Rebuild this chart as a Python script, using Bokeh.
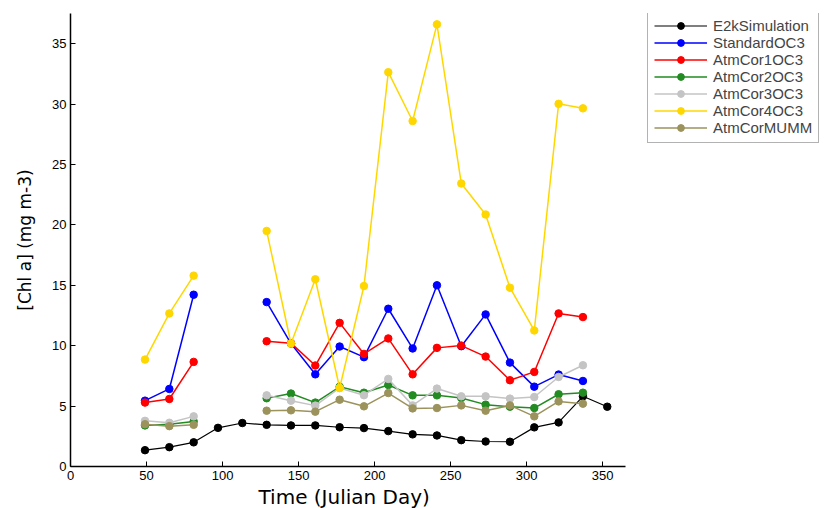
import numpy as np
from bokeh.plotting import figure
from bokeh.models import Legend, LegendItem, Range1d, FixedTicker, Title
from bokeh.embed import file_html
from bokeh.resources import INLINE

NaN = float("nan")

days = [49, 65, 81, 97, 113, 129, 145, 161, 177, 193, 209, 225, 241, 257, 273, 289, 305, 321, 337, 353]

e2k_simulation = [1.35, 1.6, 2.0, 3.2, 3.6, 3.45, 3.4, 3.4, 3.25, 3.18, 2.93, 2.66, 2.57, 2.18, 2.07, 2.05, 3.24, 3.65, 5.81, 4.95]
standard_oc3 = [5.45, 6.42, 14.22, NaN, NaN, 13.61, 10.18, 7.63, 9.93, 9.05, 13.06, 9.77, 15.0, 9.96, 12.59, 8.6, 6.61, 7.61, 7.08, NaN]
atmcor1_oc3 = [5.29, 5.59, 8.66, NaN, NaN, 10.37, 10.21, 8.36, 11.89, 9.32, 10.6, 7.63, 9.82, 10.01, 9.1, 7.14, 7.83, 12.67, 12.37, NaN]
atmcor2_oc3 = [3.4, 3.5, 3.73, NaN, NaN, 5.65, 6.04, 5.29, 6.6, 6.11, 6.75, 5.89, 5.89, 5.67, 5.12, 4.95, 4.84, 5.98, 6.11, NaN]
atmcor3_oc3 = [3.78, 3.62, 4.15, NaN, NaN, 5.89, 5.45, 5.04, 6.5, 5.9, 7.25, 5.06, 6.45, 5.81, 5.81, 5.62, 5.75, 7.41, 8.38, NaN]
atmcor4_oc3 = [8.85, 12.67, 15.8, NaN, NaN, 19.5, 10.18, 15.5, 6.5, 14.94, 32.64, 28.6, 36.6, 23.43, 20.86, 14.8, 11.26, 30.02, 29.65, NaN]
atmcor_mumm = [3.5, 3.34, 3.45, NaN, NaN, 4.62, 4.65, 4.54, 5.53, 4.98, 6.08, 4.81, 4.84, 5.06, 4.62, 5.06, 4.15, 5.39, 5.2, NaN]

series_names = ["E2kSimulation", "StandardOC3", "AtmCor1OC3", "AtmCor2OC3", "AtmCor3OC3", "AtmCor4OC3", "AtmCorMUMM"]
series_values = [e2k_simulation, standard_oc3, atmcor1_oc3, atmcor2_oc3, atmcor3_oc3, atmcor4_oc3, atmcor_mumm]
series_colors = ["#000000", "#0000ff", "#ff0000", "#228b22", "#c4c4c4", "#ffd700", "#9c935c"]

x_ticks = [0, 50, 100, 150, 200, 250, 300, 350]
y_ticks = [0, 5, 10, 15, 20, 25, 30, 35]

X_MAX = 365.0
Y_MAX = 37.5
LEFT = 70
WIDTH = 835
AXIS_PX = 555  # on-screen length of the x axis (0..365)
view_end = X_MAX * (WIDTH - LEFT) / AXIS_PX

p = figure(width=WIDTH, height=508, output_backend="svg", toolbar_location=None,
           x_range=Range1d(0, view_end), y_range=Range1d(0, Y_MAX),
           min_border_left=LEFT, min_border_right=0, min_border_top=13, min_border_bottom=0)
p.outline_line_color = None
p.xgrid.visible = False
p.ygrid.visible = False

items = []
for name, vals, col in zip(series_names, series_values, series_colors):
    y = np.array(vals, dtype=float)
    x = np.array(days, dtype=float)
    lw = 1.2 if name == "E2kSimulation" else 1.5
    lr = p.line(x, y, line_color=col, line_width=lw)
    mask = ~np.isnan(y)
    sr = p.scatter(x[mask], y[mask], marker="circle", size=7.5, fill_color=col, line_color=col)
    items.append(LegendItem(label=name, renderers=[lr, sr]))

for ax in (p.xaxis[0], p.yaxis[0]):
    ax.major_tick_in = 5
    ax.major_tick_out = 0
    ax.minor_tick_in = 0
    ax.minor_tick_out = 0
    ax.axis_line_color = "black"
    ax.axis_line_width = 1.5
    ax.major_tick_line_color = "black"
    ax.major_label_text_font = "Liberation Sans"
    ax.major_label_text_font_size = "13px"
    ax.major_label_text_color = "black"
    ax.axis_label_text_font = "DejaVu Sans"
    ax.axis_label_text_font_style = "normal"
    ax.axis_label_text_color = "black"

p.xaxis.bounds = (0, X_MAX)
p.xaxis.ticker = FixedTicker(ticks=x_ticks)
p.yaxis.ticker = FixedTicker(ticks=y_ticks)
p.yaxis.axis_label = "[Chl a] (mg m-3)"
p.yaxis.axis_label_text_font_size = "17px"
p.xaxis.major_label_standoff = 4
p.yaxis.major_label_standoff = 4
p.yaxis.axis_label_standoff = 14

# x-axis title, centred under the 0..365 axis (the frame is wider because of the legend)
xtitle = Title(text="Time (Julian Day)", align="left", offset=188,
               text_font="DejaVu Sans", text_font_size="20px", text_font_style="normal",
               text_color="black", standoff=0)
p.add_layout(xtitle, "below")

legend = Legend(items=items, location=(577, 323))
legend.label_text_font = "Liberation Sans"
legend.label_text_font_size = "15px"
legend.label_height = 17
legend.glyph_height = 17
legend.glyph_width = 53
legend.label_standoff = 6
legend.spacing = 0
legend.padding = 6
legend.margin = 0
legend.border_line_color = "#666666"
legend.border_line_width = 1
legend.background_fill_color = "white"
legend.background_fill_alpha = 1
p.add_layout(legend, "center")

open("out.html", "w").write(file_html(p, INLINE))
